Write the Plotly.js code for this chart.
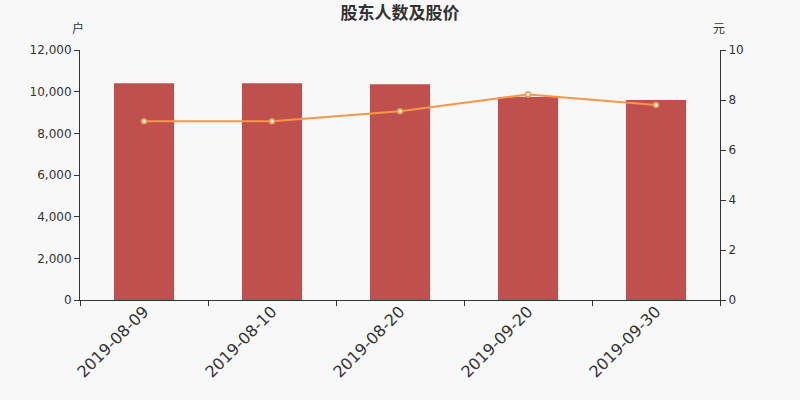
<!DOCTYPE html>
<html>
<head>
<meta charset="utf-8">
<script src="https://cdn.plot.ly/plotly-3.0.1.min.js"></script>
<style>html,body{margin:0;padding:0;background:#f8f8f8;}</style>
</head>
<body>
<div id="chart" style="width:800px;height:400px;"></div>
<script>
const categories = ["2019-08-09", "2019-08-10", "2019-08-20", "2019-09-20", "2019-09-30"];
const holders = [10410, 10410, 10360, 9750, 9600];
const prices = [7.15, 7.15, 7.55, 8.22, 7.8];

const traces = [
  {
    type: "bar",
    x: categories,
    y: holders,
    marker: {color: "#c0504d"},
    name: "股东人数",
    hoverinfo: "x+y"
  },
  {
    type: "scatter",
    mode: "lines+markers",
    x: categories,
    y: prices,
    yaxis: "y2",
    line: {color: "#f79646", width: 2},
    marker: {color: "#ffffff", size: 5, line: {color: "#f79646", width: 1.5}},
    name: "股价"
  }
];

const layout = {
  width: 800,
  height: 400,
  paper_bgcolor: "#f8f8f8",
  plot_bgcolor: "#f8f8f8",
  showlegend: false,
  bargap: 0.53,
  margin: {l: 80, r: 80, t: 50, b: 100},
  font: {family: "DejaVu Sans, sans-serif", color: "#333", size: 12},
  title: {
    text: "<b>股东人数及股价</b>",
    x: 0.5, xanchor: "center",
    y: 0.968, yanchor: "middle",
    font: {family: "Noto Sans CJK SC, sans-serif", size: 17, color: "#333"}
  },
  xaxis: {
    type: "category",
    showgrid: false,
    showline: true,
    linecolor: "#333",
    linewidth: 1,
    ticks: "outside",
    tickson: "boundaries",
    ticklen: 5,
    tickcolor: "#333",
    tickangle: -45,
    ticklabelstandoff: -5,
    tickfont: {size: 16, color: "#333"},
    zeroline: false
  },
  yaxis: {
    range: [0, 12000],
    tickvals: [0, 2000, 4000, 6000, 8000, 10000, 12000],
    ticktext: ["0", "2,000", "4,000", "6,000", "8,000", "10,000", "12,000"],
    showgrid: false,
    showline: true,
    linecolor: "#333",
    ticks: "outside",
    ticklen: 5,
    tickcolor: "#333",
    zeroline: false,
    tickfont: {size: 12, color: "#333"}
  },
  yaxis2: {
    overlaying: "y",
    side: "right",
    range: [0, 10],
    tickvals: [0, 2, 4, 6, 8, 10],
    showgrid: false,
    showline: true,
    linecolor: "#333",
    ticks: "outside",
    ticklen: 5,
    tickcolor: "#333",
    zeroline: false,
    tickfont: {size: 12, color: "#333"}
  },
  annotations: [
    {text: "户", xref: "paper", yref: "paper", x: -0.003, y: 1.09, xanchor: "center", yanchor: "middle", showarrow: false, font: {family: "Noto Sans CJK SC, sans-serif", size: 12, color: "#333"}},
    {text: "元", xref: "paper", yref: "paper", x: 0.998, y: 1.09, xanchor: "center", yanchor: "middle", showarrow: false, font: {family: "Noto Sans CJK SC, sans-serif", size: 12, color: "#333"}}
  ]
};

Plotly.newPlot("chart", traces, layout, {displayModeBar: false, staticPlot: true});
</script>
</body>
</html>
